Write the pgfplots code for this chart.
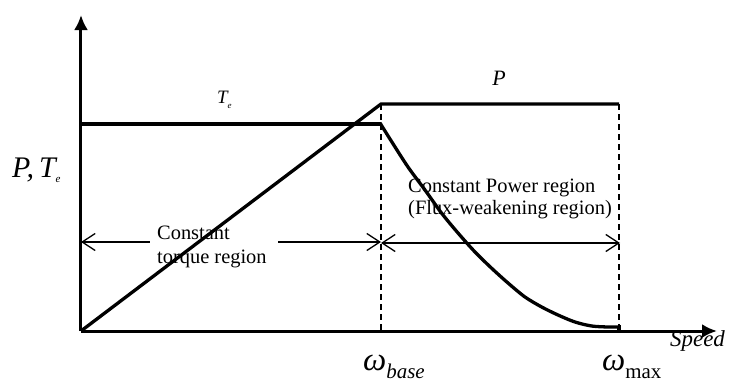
\documentclass[border=0pt]{standalone}
\usepackage{fontspec}
\setmainfont{Liberation Serif}
\usepackage{pgfplots}
\pgfplotsset{compat=1.18}
\usetikzlibrary{arrows.meta}
\begin{document}
\begin{tikzpicture}
\begin{axis}[
  x=1bp, y=1bp,
  xmin=0, xmax=636, ymin=0, ymax=316,
  enlargelimits=false,
  axis lines=left,
  axis line style={line width=3bp, -{Latex[length=15bp,width=14bp]}},
  ticks=none,
  clip=false,
]
\path (axis cs:-81,-53) rectangle (axis cs:652,331);
% power
\addplot[black, line width=3.3bp, line join=miter] coordinates {(0,0) (300,227) (538,227)};
% torque constant
\addplot[black, line width=3.3bp] coordinates {(0,207) (300,207)};
% torque falling
\addplot[black, line width=3.3bp, smooth, tension=0.5] coordinates {
(299,208) (310.7,189.3) (327,164) (344,141) (360.7,117.7) (377,98) (394,79)
(410.7,62.7) (427,48) (444,34) (460.7,24) (477,16) (494,9) (510.7,5) (527,4) (537,4)};
\addplot[black, line width=3.3bp] coordinates {(537,4) (538,4) (538,0)};
% dashed
\addplot[black, line width=1.8bp, dash pattern=on 6bp off 4bp] coordinates {(300,227) (300,0)};
\addplot[black, line width=1.8bp, dash pattern=on 6bp off 4bp] coordinates {(538,227) (538,0)};
% region arrows
\addplot[black, line width=1.3bp, {Straight Barb[length=13bp,width=17bp]}-] coordinates {(0,89) (69,89)};
\addplot[black, line width=1.3bp, -{Straight Barb[length=13bp,width=17bp]}] coordinates {(197,89) (300,89)};
\addplot[black, line width=1.3bp, {Straight Barb[length=13bp,width=17bp]}-{Straight Barb[length=13bp,width=17bp]}] coordinates {(300,88) (539,88)};
% labels
\node[anchor=base west, inner sep=0pt, font=\fontsize{30}{30}\selectfont\itshape] at (axis cs:-69,154) {P,\,T\raisebox{-5bp}{\fontsize{11}{11}\selectfont e}};
\node[anchor=base west, inner sep=0pt, font=\fontsize{19}{19}\selectfont\itshape] at (axis cs:136,228) {T\raisebox{-5bp}{\fontsize{9}{9}\selectfont e}};
\node[anchor=base, inner sep=0pt, font=\fontsize{22}{22}\selectfont\itshape] at (axis cs:418,246) {P};
\node[anchor=base west, inner sep=0pt, font=\fontsize{20.5}{20.5}\selectfont] at (axis cs:76,92) {Constant};
\node[anchor=base west, inner sep=0pt, font=\fontsize{20.5}{20.5}\selectfont] at (axis cs:76,68) {torque region};
\node[anchor=base west, inner sep=0pt, font=\fontsize{20.5}{20.5}\selectfont] at (axis cs:327,139) {Constant Power region};
\node[anchor=base west, inner sep=0pt, font=\fontsize{20.5}{20.5}\selectfont] at (axis cs:327,117) {(Flux-weakening region)};
\node[anchor=base west, inner sep=0pt, font=\fontsize{33}{33}\selectfont\itshape] at (axis cs:282,-39) {ω\raisebox{-8bp}{\fontsize{21}{21}\selectfont base}};
\node[anchor=base west, inner sep=0pt, font=\fontsize{33}{33}\selectfont\itshape] at (axis cs:521,-39) {ω\raisebox{-8bp}{\fontsize{21}{21}\selectfont\upshape max}};
\node[anchor=base west, inner sep=0pt, font=\fontsize{23}{23}\selectfont\itshape] at (axis cs:589,-15) {Speed};
\end{axis}
\end{tikzpicture}
\end{document}
